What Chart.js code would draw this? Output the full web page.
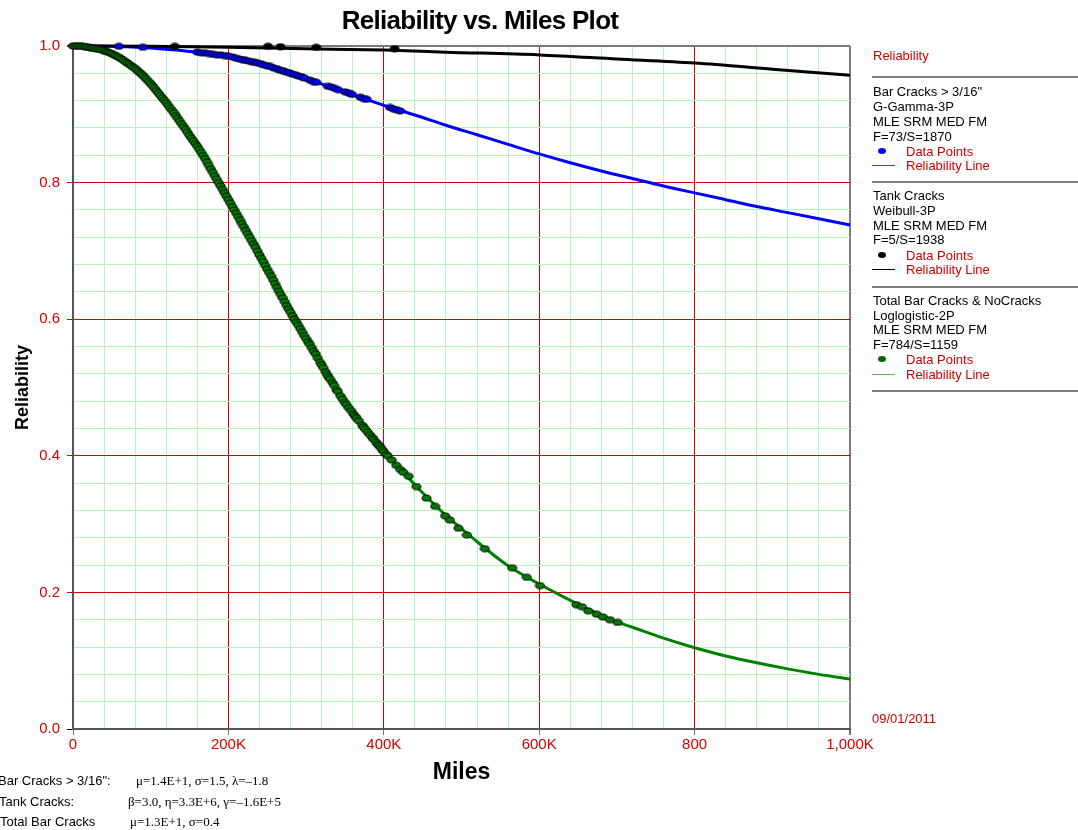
<!DOCTYPE html>
<html><head><meta charset="utf-8">
<script src="https://cdn.jsdelivr.net/npm/chart.js@4.4.0/dist/chart.umd.min.js"></script>
<style>
html,body{margin:0;padding:0;background:#fff;}
#wrap{position:relative;width:1078px;height:830px;overflow:hidden;font-family:"Liberation Sans",Arial,sans-serif;background:#fff;}
#cv{position:absolute;left:0;top:0;}
.t{position:absolute;white-space:nowrap;font-size:13px;line-height:16px;height:16px;color:#000;}
.r{color:#cc0000;}
.serif{font-family:"Liberation Serif","Times New Roman",serif;}
.hr{position:absolute;left:872px;width:206px;height:2px;background:#808080;}
#title{position:absolute;left:0;width:960px;top:5px;text-align:center;font-weight:bold;font-size:26px;line-height:30px;letter-spacing:-0.7px;color:#000;white-space:nowrap;}
</style>
</head><body>
<div id="wrap">
<canvas id="cv" width="1078" height="830"></canvas>
<div id="title">Reliability vs. Miles Plot</div>
</div>
<script>
// ---- data (miles in thousands) ----
const xTickLabels = ['0','200K','400K','600K','800','1,000K'];
const yTickLabels = ['0.0','0.2','0.4','0.6','0.8','1.0'];

const blueLineT = [0,50,100,150,200,250,300,350,400,440,480,520,560,600,640,680,720,760,800,840,880,920,960,1000];
const blueLineR = [1.000,0.9995,0.997,0.992,0.985,0.971,0.952,0.933,0.913,0.899,0.884,0.870,0.856,0.842,0.829,0.817,0.806,0.795,0.785,0.775,0.765,0.756,0.747,0.738];

const blackLineT = [0,100,200,300,400,480,600,700,800,900,1000];
const blackLineR = [1.000,0.9995,0.998,0.996,0.994,0.991,0.987,0.981,0.975,0.966,0.957];

const greenLineT = [0,20,40,60,80,100,120,140,163,188,208,228,247,266,286,307,327,350,376,405,438,474,515,560,622,695,720,760,800,840,880,920,960,1000];
const greenLineR = [1.000,0.998,0.993,0.983,0.967,0.945,0.917,0.886,0.848,0.799,0.759,0.719,0.679,0.639,0.599,0.559,0.519,0.479,0.439,0.400,0.360,0.319,0.279,0.239,0.199,0.159,0.149,0.133,0.119,0.107,0.097,0.088,0.080,0.073];

const bluePtsT = [59,90,160,165,170,175,180,185,190,195,200,205,210,214,218,222,226,230,234,238,242,246,250,254,258,262,266,270,274,278,282,286,290,294,298,305,309,313,328,332,337,341,350,355,359,370,374,378,408,412,416,421];
const bluePtsR = [0.9995,0.998,0.991,0.990,0.990,0.989,0.988,0.987,0.987,0.986,0.985,0.984,0.982,0.981,0.980,0.979,0.978,0.977,0.976,0.975,0.974,0.972,0.971,0.970,0.968,0.967,0.965,0.964,0.962,0.961,0.959,0.958,0.956,0.955,0.953,0.950,0.948,0.947,0.941,0.940,0.938,0.936,0.933,0.931,0.929,0.925,0.923,0.922,0.910,0.908,0.907,0.905];

const blackPtsT = [131,251,267,313,414];
const blackPtsR = [0.9995,0.9995,0.999,0.998,0.996];

// green failure points, [thousand miles, reliability]
const greenPts = [
 [0,1.000],[2.5,1.000],[5,1.000],[7.5,0.9998],[10,0.9996],[12.5,0.9993],[15,0.999],[17.5,0.9987],[20,0.998],
 [22.5,0.9975],[25,0.997],[27.5,0.9965],[30,0.996],[32.5,0.9955],[35,0.995],[37.5,0.994],[40,0.993],[42.5,0.992],[45,0.991],[47.5,0.990],
 [50,0.989],[52.5,0.9875],[55,0.986],[57.5,0.9845],[60,0.983],[62.5,0.981],[65,0.979],[67.5,0.977],[70,0.975],[72.5,0.973],
 [75,0.971],[77.5,0.969],[80,0.967],[82.5,0.9645],[85,0.962],[87.5,0.9595],[90,0.957],[92.5,0.954],[95,0.951],[97.5,0.948],
 [100,0.945],[102.5,0.9415],[105,0.938],[107.5,0.9345],[110,0.931],[112.5,0.9275],[115,0.924],[117.5,0.9205],[120,0.917],[122.5,0.913],
 [125,0.909],[127.5,0.9055],[130,0.902],[132.5,0.898],[135,0.894],[137.5,0.890],[140,0.886],[142.5,0.882],[145,0.878],[147.5,0.8735],
 [150,0.869],[152.5,0.865],[155,0.861],[157.5,0.857],[160,0.853],[162.5,0.8485],[165,0.844],[167.5,0.8395],[170,0.835],[172.5,0.830],
 [175,0.825],[177.5,0.820],[180,0.815],[182.5,0.810],[185,0.805],[187.5,0.800],[190,0.795],[192.5,0.790],[195,0.785],[197.5,0.780],
 [200,0.775],[202.5,0.770],[205,0.765],[207.5,0.760],[210,0.755],[212.5,0.750],[215,0.745],[217.5,0.740],[220,0.735],[222.5,0.730],
 [225,0.725],[227.5,0.720],[230,0.715],[232.5,0.710],[235,0.705],[237.5,0.6995],[240,0.694],[242.5,0.689],[245,0.684],[247.5,0.6785],
 [250,0.673],[252.5,0.668],[255,0.663],[257.5,0.6575],[260,0.652],[262.5,0.6465],[265,0.641],[267.5,0.636],[270,0.631],[272.5,0.6255],
 [275,0.620],[277.5,0.615],[280,0.610],[282.5,0.605],[285,0.600],[287.5,0.5955],[290,0.591],[292.5,0.586],[295,0.581],[297.5,0.576],
 [300,0.5715],[302.5,0.567],[305,0.563],[307.5,0.558],[310,0.553],[312.5,0.549],[315,0.543],[318,0.537],[320,0.533],[322,0.529],
 [325,0.523],[327,0.519],[329,0.515],[331,0.512],[334,0.507],[336,0.503],[339,0.497],[341,0.494],[344,0.488],[347,0.483],
 [350,0.478],[352,0.475],[355,0.470],[358,0.466],[361,0.461],[363,0.458],[365,0.455],[368,0.451],[372,0.445],[374,0.442],
 [376,0.439],[379,0.435],[382,0.431],[385,0.427],[387,0.424],[390,0.420],[392,0.417],[394,0.415],[396,0.412],[398,0.409],
 [400,0.406],[403,0.402],[405,0.400],[410,0.394],[416,0.386],[421,0.380],[425,0.376],
 [432,0.370],[442,0.355],[455,0.338],[466,0.326],[479,0.312],[485,0.306],[496,0.294],[507,0.284],[530,0.264],[565,0.236],[584,0.222],[601,0.210],
 [648,0.182],[655,0.179],[663,0.173],[674,0.168],[682,0.164],[691,0.160],[701,0.156]
];

// ---- helpers ----
const zip = (a,b) => a.map((v,i)=>({x:v,y:b[i]}));
function ellipse(fill){
  const c = document.createElement('canvas'); c.width = 11; c.height = 8;
  const g = c.getContext('2d');
  g.beginPath(); g.ellipse(5.5,4,4.5,3,0,0,Math.PI*2);
  g.fillStyle = fill; g.fill(); g.lineWidth = 1; g.strokeStyle = '#000'; g.stroke();
  return c;
}
const RED = 'rgb(214,0,0)', GREENGRID = 'rgb(180,246,180)', EDGE = '#7a7a7a';
const FONT = '"Liberation Sans", Arial, sans-serif';
const isMajor = (v, step) => Math.abs(v/step - Math.round(v/step)) < 1e-6;

new Chart(document.getElementById('cv'), {
  type: 'scatter',
  data: { datasets: [
    { data: greenPts.map(p => ({x: p[0], y: p[1]})), pointStyle: ellipse('#007a00'), pointRadius: 4, showLine: false, clip: false },
    { data: zip(blackPtsT, blackPtsR), pointStyle: ellipse('#000'), pointRadius: 4, showLine: false, clip: false },
    { data: zip(bluePtsT, bluePtsR), pointStyle: ellipse('#0000ff'), pointRadius: 4, showLine: false, clip: false },
    { data: zip(blackLineT, blackLineR), showLine: true, borderColor: '#000', borderWidth: 3, pointRadius: 0, cubicInterpolationMode: 'monotone', clip: 4 },
    { data: zip(blueLineT, blueLineR), showLine: true, borderColor: '#0000ff', borderWidth: 3, pointRadius: 0, cubicInterpolationMode: 'monotone', clip: 4 },
    { data: zip(greenLineT, greenLineR), showLine: true, borderColor: '#008000', borderWidth: 3, pointRadius: 0, cubicInterpolationMode: 'monotone', clip: 4 }
  ]},
  options: {
    responsive: false, animation: false, devicePixelRatio: 1,
    layout: { padding: { left: 0, right: 228, top: 46, bottom: 0 } },
    plugins: { legend: { display: false }, tooltip: { enabled: false }, title: { display: false } },
    scales: {
      x: {
        type: 'linear', min: 0, max: 1000,
        afterFit: s => { s.height = 101; },
        ticks: { stepSize: 40, autoSkip: false, maxRotation: 0, minRotation: 0, color: RED, padding: 1,
          font: { family: FONT, size: 15 },
          callback: v => isMajor(v,200) ? xTickLabels[Math.round(v/200)] : '' },
        grid: {
          color: c => { const v = c.tick.value; if (v <= 0) return EDGE; if (v >= 1000) return EDGE; return isMajor(v,200) ? RED : GREENGRID; },
          lineWidth: c => (c.tick.value >= 1000 ? 2 : 1),
          tickLength: 6,
          tickColor: c => isMajor(c.tick.value,200) ? '#777' : 'rgba(0,0,0,0)'
        },
        border: { display: true, color: '#555', width: 2 },
        title: { display: true, text: 'Miles', color: '#000', font: { family: FONT, size: 23, weight: 'bold' }, padding: { top: 0, bottom: 44 } }
      },
      y: {
        min: 0, max: 1,
        afterFit: s => { s.width = 73; },
        ticks: { stepSize: 0.04, autoSkip: false, color: RED, padding: 7,
          font: { family: FONT, size: 15 },
          callback: v => isMajor(v,0.2) ? yTickLabels[Math.round(v/0.2)] : '' },
        grid: {
          color: c => { const v = c.tick.value; if (v <= 1e-9) return EDGE; if (v >= 1-1e-9) return EDGE; return isMajor(v,0.2) ? RED : GREENGRID; },
          lineWidth: c => (c.tick.value >= 1-1e-9 ? 2 : 1),
          tickLength: 6,
          tickColor: c => { const v = c.tick.value; if (v <= 1e-9) return '#000'; return isMajor(v,0.2) ? RED : 'rgba(0,0,0,0)'; }
        },
        border: { display: true, color: '#555', width: 2 },
        title: { display: true, text: 'Reliability', color: '#000', font: { family: FONT, size: 18, weight: 'bold' }, padding: { top: 12, bottom: 0 } }
      }
    }
  }
});

// ---- side panel & notes (text) ----
const wrap = document.getElementById('wrap');
function txt(s, x, cy, cls){ const d = document.createElement('div'); d.className = 't' + (cls ? ' ' + cls : ''); d.textContent = s; d.style.left = x + 'px'; d.style.top = (cy - 8) + 'px'; wrap.appendChild(d); }
function hr(y){ const d = document.createElement('div'); d.className = 'hr'; d.style.top = (y - 1) + 'px'; wrap.appendChild(d); }
function dot(cx, cy, col){ const d = document.createElement('div'); d.style.cssText = `position:absolute;left:${cx-4}px;top:${cy-3}px;width:8px;height:6px;border-radius:50%;background:${col};`; wrap.appendChild(d); }
function seg(y, col){ const d = document.createElement('div'); d.style.cssText = `position:absolute;left:872px;top:${y}px;width:23px;height:1px;background:${col};`; wrap.appendChild(d); }

txt('Reliability', 873, 56, 'r');
hr(77);
const blocks = [
  { y: 92.3, lines: ['Bar Cracks > 3/16"', 'G-Gamma-3P', 'MLE SRM MED FM', 'F=73/S=1870'], col: '#0000ff', lcol: '#3a3aff' },
  { y: 196, lines: ['Tank Cracks', 'Weibull-3P', 'MLE SRM MED FM', 'F=5/S=1938'], col: '#000', lcol: '#000' },
  { y: 300.7, lines: ['Total Bar Cracks & NoCracks', 'Loglogistic-2P', 'MLE SRM MED FM', 'F=784/S=1159'], col: '#006400', lcol: '#5cb85c' }
];
const hrs = [182, 287, 391];
blocks.forEach((b, k) => {
  b.lines.forEach((s, i) => txt(s, 873, b.y + i * 14.8));
  const yd = b.y + 4 * 14.8 + 0.5, yl = b.y + 5 * 14.8;
  dot(882, yd - 1, b.col); txt('Data Points', 906, yd, 'r');
  seg(Math.round(yl - 1), b.lcol); txt('Reliability Line', 906, yl, 'r');
  hr(hrs[k]);
});
txt('09/01/2011', 872, 719, 'r');

txt('Bar Cracks > 3/16":', -2, 781); txt('\u03BC=1.4E+1, \u03C3=1.5, \u03BB=\u20131.8', 136, 781, 'serif');
txt('Tank Cracks:', -1, 802); txt('\u03B2=3.0, \u03B7=3.3E+6, \u03B3=\u20131.6E+5', 128, 802, 'serif');
txt('Total Bar Cracks', 0, 822); txt('\u03BC=1.3E+1, \u03C3=0.4', 130, 822, 'serif');
</script>
</body></html>
